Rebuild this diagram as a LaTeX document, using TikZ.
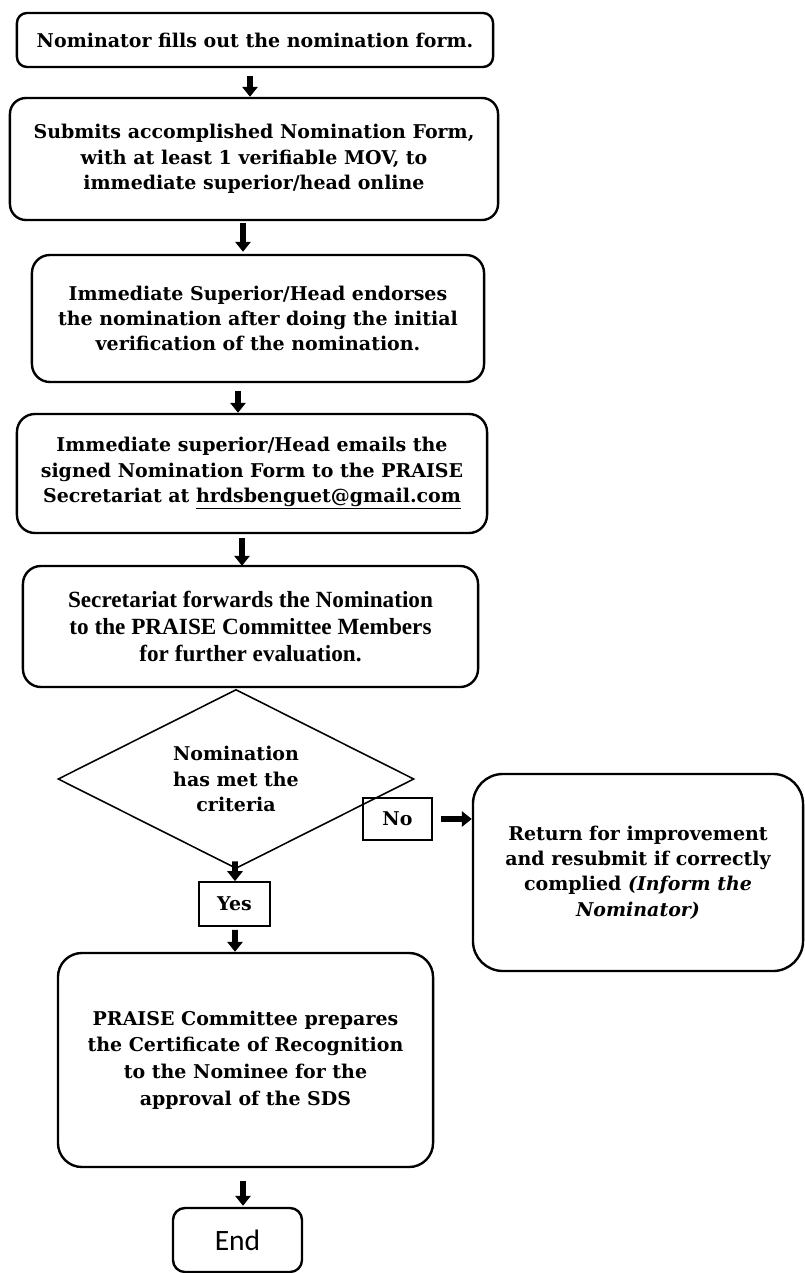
\documentclass[tikz,border=0pt]{standalone}
\usepackage{fontspec}
\setmainfont{DejaVu Serif}
\newfontfamily\timesfont{Liberation Serif}
\newfontfamily\endfont{Carlito}
\usepackage{tikz}
\usetikzlibrary{arrows.meta, shapes.geometric, positioning}

\begin{document}
\begin{tikzpicture}[x=0.025cm, y=-0.025cm,
    stepbox/.style={draw, line width=1.7pt, align=center, inner sep=0pt,
        font=\bfseries\fontsize{13.5}{18}\selectfont},
    decision/.style={draw, diamond, aspect=2, line width=1.1pt, align=center, inner sep=0pt,
        font=\bfseries\fontsize{13.5}{18}\selectfont},
    answer/.style={draw, line width=1.2pt, inner sep=0pt,
        font=\bfseries\fontsize{13.5}{18}\selectfont},
    flowarrow/.style={line width=4pt, -{Triangle[width=0.38cm, length=0.25cm]}}]
    \useasboundingbox (0,0) rectangle (804,1273);

    \node[stepbox, rounded corners=0.25cm, minimum width=11.9cm, minimum height=1.35cm] (fill) at (255,40)
        {Nominator fills out the nomination form.};
    \node[stepbox, rounded corners=0.4cm, minimum width=12.2cm, minimum height=3.05cm] (submit) at (254,159)
        {Submits accomplished Nomination Form,\\with at least 1 verifiable MOV, to\\immediate superior/head online};
    \node[stepbox, rounded corners=0.45cm, minimum width=11.3cm, minimum height=3.175cm] (endorse) at (258,318.5)
        {Immediate Superior/Head endorses\\the nomination after doing the initial\\verification of the nomination.};
    \node[stepbox, rounded corners=0.45cm, minimum width=11.75cm, minimum height=2.975cm] (email) at (252,473.5)
        {Immediate superior/Head emails the\\signed Nomination Form to the PRAISE\\Secretariat at \underline{hrdsbenguet@gmail.com}};
    \node[stepbox, rounded corners=0.45cm, minimum width=11.375cm, minimum height=3.025cm,
        font=\timesfont\bfseries\fontsize{16.5}{19}\selectfont] (forward) at (250.5,626.5)
        {Secretariat forwards the Nomination\\to the PRAISE Committee Members\\for further evaluation.};
    \node[decision, minimum width=8.9cm, minimum height=4.475cm] (check) at (236,779)
        {Nomination\\has met the\\criteria};
    \node[answer, minimum width=1.725cm, minimum height=1.05cm] (nobox) at (397.5,819) {No};
    \node[stepbox, rounded corners=0.75cm, minimum width=8.25cm, minimum height=4.925cm] (ret) at (638,872.5)
        {Return for improvement\\and resubmit if correctly\\complied {\itshape (Inform the}\\{\itshape Nominator)}};
    \node[answer, minimum width=1.775cm, minimum height=1.1cm] (yesbox) at (234.5,904) {Yes};
    \node[stepbox, rounded corners=0.6cm, minimum width=9.375cm, minimum height=5.35cm,
        font=\bfseries\fontsize{13.5}{19}\selectfont] (prepare) at (245.5,1060)
        {PRAISE Committee prepares\\the Certificate of Recognition\\to the Nominee for the\\approval of the SDS};
    \node[stepbox, rounded corners=0.3cm, minimum width=3.225cm, minimum height=1.6cm,
        font=\endfont\fontsize{21}{24}\selectfont] (endbox) at (237.5,1240) {End};

    \draw[flowarrow] ([shift={(-5,8)}]fill.south) -- ([shift={(-4,0)}]submit.north);
    \draw[flowarrow] ([shift={(-11,2)}]submit.south) -- ([shift={(-15,-2)}]endorse.north);
    \draw[flowarrow] ([shift={(-20,8)}]endorse.south) -- ([shift={(-14,0)}]email.north);
    \draw[flowarrow] ([shift={(-10,4)}]email.south) -- ([shift={(-8.5,1)}]forward.north);
    \draw[flowarrow] ([shift={(-1,-8)}]check.south) -- ([shift={(0.5,0)}]yesbox.north);
    \draw[flowarrow] ([shift={(0.5,3)}]yesbox.south) -- ([shift={(-10.5,0)}]prepare.north);
    \draw[flowarrow] ([shift={(-2.5,13)}]prepare.south) -- ([shift={(5.5,-1)}]endbox.north);
    \draw[flowarrow] ([shift={(8,0)}]nobox.east) -- (ret.west |- nobox.east);
\end{tikzpicture}
\end{document}
